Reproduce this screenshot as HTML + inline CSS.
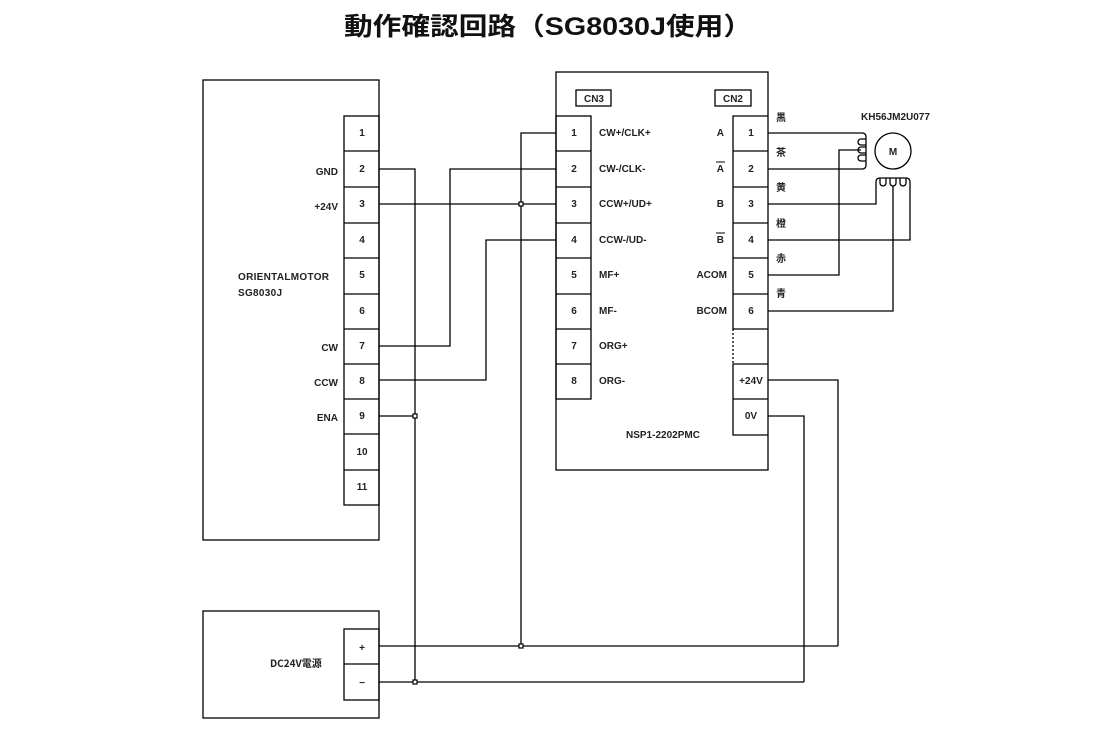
<!DOCTYPE html>
<html><head><meta charset="utf-8">
<style>
html,body{margin:0;padding:0;background:#fff;}
svg{display:block;}
text{font-family:"Liberation Sans Narrow","Liberation Sans","Noto Sans CJK JP",sans-serif;font-weight:bold;fill:#222;font-size:10px;}
.t{font-family:"Liberation Sans","Noto Sans CJK JP",sans-serif;font-size:25px;font-weight:bold;fill:#111;}
.j{font-family:"Noto Sans CJK JP",sans-serif;font-size:10px;}
</style></head><body>
<svg width="1098" height="732" viewBox="0 0 1098 732" xmlns="http://www.w3.org/2000/svg">
<text class="t" x="344" y="35" textLength="408" lengthAdjust="spacingAndGlyphs">動作確認回路（SG8030J使用）</text>
<g fill="none" stroke="#000" stroke-width="1.3">
<rect x="203" y="80" width="176" height="460"/>
<rect x="344" y="116" width="35" height="389"/>
<line x1="344" y1="151" x2="379" y2="151"/><line x1="344" y1="187" x2="379" y2="187"/>
<line x1="344" y1="223" x2="379" y2="223"/><line x1="344" y1="258" x2="379" y2="258"/>
<line x1="344" y1="294" x2="379" y2="294"/><line x1="344" y1="329" x2="379" y2="329"/>
<line x1="344" y1="364" x2="379" y2="364"/><line x1="344" y1="399" x2="379" y2="399"/>
<line x1="344" y1="434" x2="379" y2="434"/><line x1="344" y1="470" x2="379" y2="470"/>
<rect x="556" y="72" width="212" height="398"/>
<rect x="576" y="90" width="35" height="16"/>
<rect x="715" y="90" width="36" height="16"/>
<rect x="556" y="116" width="35" height="283"/>
<line x1="556" y1="151" x2="591" y2="151"/><line x1="556" y1="187" x2="591" y2="187"/>
<line x1="556" y1="223" x2="591" y2="223"/><line x1="556" y1="258" x2="591" y2="258"/>
<line x1="556" y1="294" x2="591" y2="294"/><line x1="556" y1="329" x2="591" y2="329"/>
<line x1="556" y1="364" x2="591" y2="364"/>
<polyline points="733,329 733,116 768,116"/>
<line x1="733" y1="151" x2="768" y2="151"/><line x1="733" y1="187" x2="768" y2="187"/>
<line x1="733" y1="223" x2="768" y2="223"/><line x1="733" y1="258" x2="768" y2="258"/>
<line x1="733" y1="294" x2="768" y2="294"/><line x1="733" y1="329" x2="768" y2="329"/>
<line x1="733" y1="329" x2="733" y2="364" stroke-dasharray="2,2"/>
<polyline points="768,364 733,364 733,435 768,435"/>
<line x1="733" y1="399" x2="768" y2="399"/>
<rect x="203" y="611" width="176" height="107"/>
<rect x="344" y="629" width="35" height="71"/>
<line x1="344" y1="664" x2="379" y2="664"/>
<polyline points="379,169 415,169 415,682"/>
<line x1="379" y1="204" x2="556" y2="204"/>
<polyline points="379,346 450,346 450,169 556,169"/>
<polyline points="379,380 486,380 486,240 556,240"/>
<line x1="379" y1="416" x2="415" y2="416"/>
<polyline points="556,133 521,133 521,646"/>
<line x1="379" y1="646" x2="838" y2="646"/>
<polyline points="838,646 838,380 768,380"/>
<line x1="379" y1="682" x2="804" y2="682"/>
<polyline points="804,682 804,416 768,416"/>
<path d="M768,133 H862 Q866,133 866,137 V165 Q866,169 862,169 H768"/>
<path d="M866,139 h-5 a3,3 0 0 0 0,6 h5 M866,147 h-5 a3,3 0 0 0 0,6 h5 M866,155 h-5 a3,3 0 0 0 0,6 h5"/>
<polyline points="768,275 839,275 839,150 861,150"/>
<circle cx="893" cy="151" r="18"/>
<path d="M768,204 H876 V182 Q876,178 880,178 H906 Q910,178 910,182 V240 H768"/>
<path d="M880,178 v5 a3,3 0 0 0 6,0 v-5 M890,178 v5 a3,3 0 0 0 6,0 v-5 M900,178 v5 a3,3 0 0 0 6,0 v-5"/>
<polyline points="768,311 893,311 893,186"/>
</g>
<g fill="#fff" stroke="#000" stroke-width="1.2">
<rect x="519" y="202" width="4" height="4"/>
<rect x="413" y="414" width="4" height="4"/>
<rect x="519" y="644" width="4" height="4"/>
<rect x="413" y="680" width="4" height="4"/>
</g>
<g text-anchor="middle">
<text x="362" y="136">1</text><text x="362" y="172">2</text><text x="362" y="207">3</text>
<text x="362" y="243">4</text><text x="362" y="278">5</text><text x="362" y="314">6</text>
<text x="362" y="349">7</text><text x="362" y="384">8</text><text x="362" y="419">9</text>
<text x="362" y="455">10</text><text x="362" y="490">11</text>
<text x="574" y="136">1</text><text x="574" y="172">2</text><text x="574" y="207">3</text>
<text x="574" y="243">4</text><text x="574" y="278">5</text><text x="574" y="314">6</text>
<text x="574" y="349">7</text><text x="574" y="384">8</text>
<text x="751" y="136">1</text><text x="751" y="172">2</text><text x="751" y="207">3</text>
<text x="751" y="243">4</text><text x="751" y="278">5</text><text x="751" y="314">6</text>
<text x="751" y="384">+24V</text><text x="751" y="419">0V</text>
<text x="594" y="102">CN3</text><text x="733" y="102">CN2</text>
<text x="893" y="155" font-size="8">M</text>
<text x="362" y="651" font-size="13" font-weight="normal">+</text>
<text x="362" y="686" font-size="13" font-weight="normal">−</text>
</g>
<g text-anchor="end">
<text x="338" y="175">GND</text><text x="338" y="210">+24V</text>
<text x="338" y="351">CW</text><text x="338" y="386">CCW</text><text x="338" y="421">ENA</text>
<text x="724" y="136">A</text><text x="724" y="172">A</text><text x="724" y="207">B</text>
<text x="724" y="243">B</text><text x="727" y="278">ACOM</text><text x="727" y="314">BCOM</text>
</g>
<g stroke="#000" stroke-width="1"><line x1="716" y1="162" x2="725" y2="162"/><line x1="716" y1="233" x2="725" y2="233"/></g>
<text x="238" y="280" letter-spacing="0.3">ORIENTALMOTOR</text>
<text x="238" y="296" letter-spacing="0.3">SG8030J</text>
<text x="599" y="136">CW+/CLK+</text><text x="599" y="172">CW-/CLK-</text>
<text x="599" y="207">CCW+/UD+</text><text x="599" y="243">CCW-/UD-</text>
<text x="599" y="278">MF+</text><text x="599" y="314">MF-</text>
<text x="599" y="349">ORG+</text><text x="599" y="384">ORG-</text>
<text x="626" y="438">NSP1-2202PMC</text>
<text x="861" y="120">KH56JM2U077</text>
<text class="j" x="270" y="667">DC24V電源</text>
<g class="j">
<text class="j" x="776" y="121">黒</text><text class="j" x="776" y="156">茶</text>
<text class="j" x="776" y="191">黄</text><text class="j" x="776" y="227">橙</text>
<text class="j" x="776" y="262">赤</text><text class="j" x="776" y="297">青</text>
</g>
</svg>
</body></html>
